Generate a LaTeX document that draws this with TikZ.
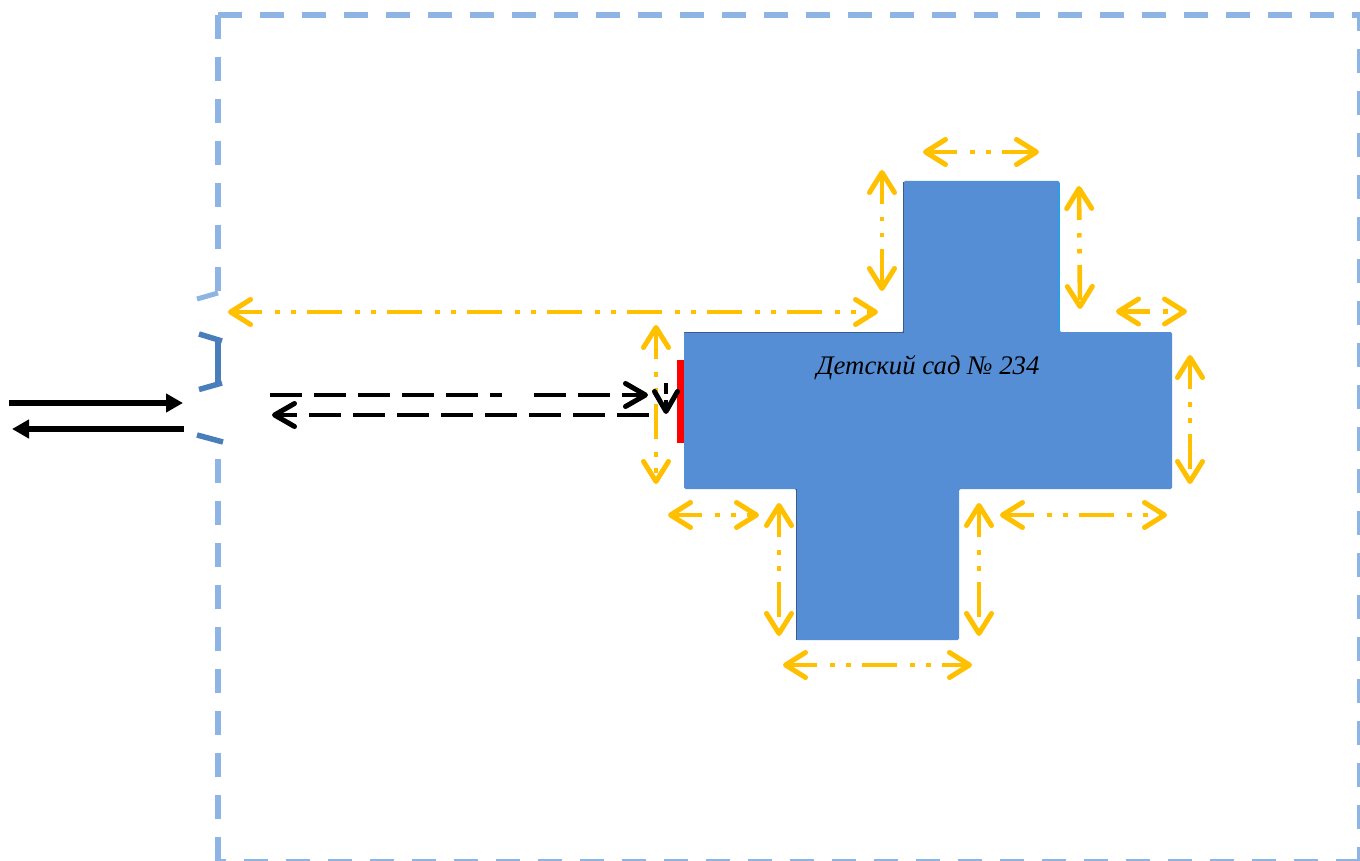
\documentclass[tikz,border=0pt]{standalone}
\usepackage{fontspec}
\setmainfont{Liberation Serif}
\usetikzlibrary{arrows.meta}
\definecolor{bordercol}{HTML}{8EB4E3}
\definecolor{gatecol}{HTML}{4A7EBB}
\definecolor{buildcol}{HTML}{558ED5}
\definecolor{dimcol}{HTML}{FFC000}
\definecolor{darkedge}{HTML}{385D8A}
\definecolor{lightedge}{HTML}{00B0F0}
\tikzset{
  x=1pt,y=-1pt,
  fence/.style={draw=bordercol,line width=6pt,dash pattern=on 24pt off 18pt},
  fencegap/.style={draw=bordercol,line width=5pt},
  gate/.style={draw=gatecol,line width=5.5pt},
  barb/.tip={Straight Barb[length=20pt,width=25pt,line width=5pt,round]},
  dimline/.style={draw=dimcol,line width=4.6pt,
    dash pattern=on 35pt off 13pt on 4.5pt off 11.5pt on 4.5pt off 11.5pt,dash phase=6pt,
    {barb}-{barb}},
  road/.style={draw=black,line width=6pt,-{Triangle[length=17pt,width=18pt]}},
  walk/.style={draw=black,line width=4pt,-{Straight Barb[length=20pt,width=23pt,line width=5pt,round]}},
  label/.style={font=\itshape\fontsize{26.8}{31}\selectfont,text=black,inner sep=0pt},
}
\begin{document}
\begin{tikzpicture}
\useasboundingbox[fill=white] (0,0) rectangle (1360,861);
% fence
\draw[fence] (218,15) -- (218,293);
\draw[fence] (218,15) -- (1360,15) -- (1360,861);
\draw[fence] (1360,861.5) -- (218,861.5);
\draw[fence] (218,861) -- (218,459);
\draw[fencegap] (218,293) -- (197,299);
% gate
\draw[gate] (199,334) -- (222,341);
\draw[gate,line width=6pt] (217.5,340) -- (217.5,383);
\draw[gate] (222,383) -- (199,389.5);
\draw[gate] (197,435) -- (223,442);
% building
\fill[buildcol,rounded corners=1.5pt] (684,332) -- (903.5,332) -- (903.5,181) -- (1059.5,181) -- (1059.5,332) -- (1172,332) -- (1172,489) -- (959,489) -- (959,640) -- (796,640) -- (796,489) -- (684,489) -- cycle;
\draw[darkedge,line width=1pt] (684,332.5) -- (903.5,332.5) -- (903.5,182);
\draw[darkedge,line width=1pt] (796.5,489) -- (796.5,640);
\draw[lightedge,line width=1pt] (1059.5,183) -- (1059.5,332);
\fill[red] (677,360) rectangle (684,443);
\node[label] (kg) at (928,368) {Детский сад № 234};
% roads
\coordinate (roadInA) at (9,403);
\coordinate (roadInB) at (183,403);
\coordinate (roadOutA) at (184,429);
\coordinate (roadOutB) at (12,429);
\draw[road] (roadInA) -- (roadInB);
\draw[road] (roadOutA) -- (roadOutB);
% walkways
\draw[dimline] (656,325) -- (656,484);
\coordinate (walkInA) at (270,395);
\coordinate (walkInB) at (648,395);
\coordinate (walkOutA) at (649,415);
\coordinate (walkOutB) at (272,415);
\coordinate (doorA) at (666,383);
\coordinate (doorB) at (666,414);
\draw[walk,dash pattern=on 32pt off 12pt on 32pt off 12pt on 32pt off 12pt on 32pt off 12pt on 32pt off 12pt on 12pt off 32pt on 32pt off 12pt on 32pt off 12pt on 40pt off 100pt] (walkInA) -- (walkInB);
\draw[walk,dash pattern=on 32pt off 12pt] (walkOutA) -- (walkOutB);
\draw[walk,line width=3.5pt,dash pattern=on 11pt off 6pt on 30pt off 10pt] (doorA) -- (doorB);
% dimension arrows
\draw[dimline] (228,312) -- (878,312);
\draw[dimline] (882,170) -- (882,291);
\draw[dimline] (923,152) -- (1039,152);
\draw[dimline] (1079,186) -- (1080,309);
\draw[dimline] (1116,311.5) -- (1187,311.5);
\draw[dimline] (1190,355) -- (1190,484);
\draw[dimline] (1000,515) -- (1167,515);
\draw[dimline] (979,503) -- (979,636);
\draw[dimline] (779,503) -- (779,636);
\draw[dimline] (668,515) -- (759,515);
\draw[dimline] (783,665) -- (972,665);
\end{tikzpicture}
\end{document}
